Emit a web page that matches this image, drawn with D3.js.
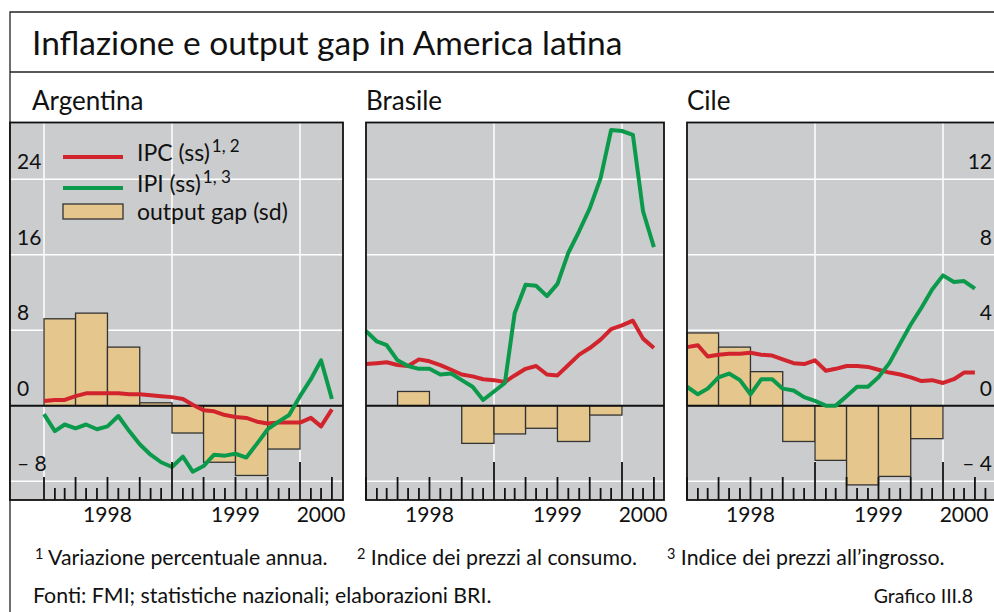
<!DOCTYPE html>
<html>
<head>
<meta charset="utf-8">
<script src="https://cdn.jsdelivr.net/npm/d3@7"></script>
<style>
  body { margin: 0; background: #fff; }
  svg { display: block; font-family: Lato, "Open Sans", sans-serif; }
</style>
</head>
<body>
<svg id="chart" width="994" height="612"></svg>
<script>
(function() {

  // monthly series, Jan 1998 .. Apr 2000 (left scale, %)
  var argIPC = [0.5, 0.6, 0.6, 1.0, 1.3, 1.3, 1.3, 1.3, 1.2, 1.2, 1.1, 1.0, 0.9, 0.7, 0.1, -0.5, -0.6, -1.0, -1.2, -1.3, -1.7, -1.9, -1.8, -1.8, -1.8, -1.3, -2.2, -0.4]
  var argIPI = [-0.9, -2.7, -2.0, -2.4, -2.0, -2.5, -2.2, -1.1, -2.7, -4.1, -5.2, -6.0, -6.5, -5.4, -7.0, -6.4, -5.2, -5.3, -5.1, -5.5, -4.0, -2.5, -1.7, -1.0, 1.0, 2.8, 4.8, 0.7]
  var braIPC = [4.4, 4.5, 4.6, 4.3, 4.2, 4.9, 4.7, 4.3, 3.8, 3.3, 3.1, 2.8, 2.7, 2.5, 3.2, 3.9, 4.2, 3.3, 3.2, 4.3, 5.4, 6.1, 7.0, 8.1, 8.5, 9.0, 7.1, 6.1]
  var braIPI = [7.9, 6.8, 6.4, 4.8, 4.2, 3.9, 3.9, 3.3, 3.4, 2.7, 2.0, 0.6, 1.5, 2.4, 9.8, 12.8, 12.7, 11.6, 12.9, 16.2, 18.5, 20.9, 24.1, 29.2, 29.1, 28.7, 20.6, 16.8]
  var cilIPC = [6.2, 6.4, 5.2, 5.4, 5.5, 5.5, 5.6, 5.4, 5.3, 4.9, 4.5, 4.4, 4.8, 3.7, 3.9, 4.2, 4.2, 4.1, 3.8, 3.5, 3.3, 3.0, 2.6, 2.7, 2.4, 2.8, 3.5, 3.5]
  var cilIPI = [2.0, 1.2, 1.8, 3.0, 3.4, 2.7, 1.2, 2.8, 2.8, 1.8, 1.6, 0.9, 0.5, 0.0, 0.0, 1.0, 2.0, 2.0, 3.0, 4.5, 6.6, 8.6, 10.4, 12.3, 13.8, 13.1, 13.2, 12.4]

  // quarterly output gap, 1998 Q1 .. 1999 Q4 (right scale)
  var argGap = [4.6, 4.9, 3.1, 0.15, -1.45, -3.0, -3.7, -2.3]
  var braGap = [0, 0.75, 0, -2.0, -1.5, -1.2, -1.9, -0.5]
  var cilGap = [3.85, 3.1, 1.8, -1.9, -2.9, -4.2, -3.75, -1.75]

  var leftTicks = [24, 16, 8, 0, -8]
  var rightTicks = [12, 8, 4, 0, -4]
  var years = ["1998", "1999", "2000"]

  var months = d3.range(argIPC.length).map(function(k) { return new Date(1998, k, 1) })
  var quarters = d3.range(argGap.length).map(function(q) { return new Date(1998, q * 3, 1) })

  var svg = d3.select("#chart")
  var top = 122.5, bottom = 500

  // the two scales are shared by all panels
  var yLeft = d3.scaleLinear().domain([-10, 30]).range([bottom, top])
  var yRight = d3.scaleLinear().domain([-5, 15]).range([bottom, top])

  var panels = [
    { name: "Argentina", left: 10, right: 343, x0: 44, ipc: argIPC, ipi: argIPI, gap: argGap, axis: "left" },
    { name: "Brasile", left: 366, right: 664, x0: 366, ipc: braIPC, ipi: braIPI, gap: braGap, axis: "none" },
    { name: "Cile", left: 687, right: 1000, x0: 687, ipc: cilIPC, ipi: cilIPI, gap: cilGap, axis: "right" }
  ]

  // frame and title
  svg.append("path")
    .attr("d", "M994,12 H10 V612 M10,72 H994")
    .attr("fill", "none")
    .attr("stroke", "#222")
    .attr("stroke-width", 1.3)

  svg.append("text")
    .attr("x", 32)
    .attr("y", 55)
    .attr("font-size", 33.5)
    .attr("fill", "#111")
    .text("Inflazione e output gap in America latina")

  panels.forEach(drawPanel)

  function drawPanel(p) {
    var x = d3.scaleTime()
      .domain([new Date(1998, 0, 1), new Date(2000, 0, 1)])
      .range([p.x0, p.x0 + 256])

    var g = svg.append("g")

    g.append("text")
      .attr("x", p.x0 === p.left ? p.left : 32)
      .attr("y", 110)
      .attr("font-size", 26)
      .attr("fill", "#111")
      .text(p.name)

    g.append("rect")
      .attr("x", p.left)
      .attr("y", top)
      .attr("width", p.right - p.left)
      .attr("height", bottom - top)
      .attr("fill", "#cbccce")

    // white grid
    g.selectAll(".hgrid")
      .data(leftTicks.filter(function(d) { return d !== 0 }))
      .enter()
      .append("line")
      .attr("x1", p.left)
      .attr("x2", p.right)
      .attr("y1", function(d) { return yLeft(d) })
      .attr("y2", function(d) { return yLeft(d) })
      .attr("stroke", "#fff")
      .attr("stroke-width", 1.5)

    g.selectAll(".vgrid")
      .data([new Date(1998, 0, 1), new Date(1999, 0, 1), new Date(2000, 0, 1)])
      .enter()
      .append("line")
      .attr("x1", function(d) { return x(d) })
      .attr("x2", function(d) { return x(d) })
      .attr("y1", top)
      .attr("y2", bottom)
      .attr("stroke", "#fff")
      .attr("stroke-width", 1.5)

    // output gap bars
    g.selectAll(".bar")
      .data(p.gap)
      .enter()
      .append("rect")
      .attr("x", function(d, i) { return x(quarters[i]) })
      .attr("width", function(d, i) { return x(d3.timeMonth.offset(quarters[i], 3)) - x(quarters[i]) })
      .attr("y", function(d) { return yRight(Math.max(d, 0)) })
      .attr("height", function(d) { return Math.abs(yRight(d) - yRight(0)) })
      .attr("fill", "#e5c68c")
      .attr("stroke", "#333")
      .attr("stroke-width", 1.3)

    // zero line
    g.append("line")
      .attr("x1", p.left)
      .attr("x2", p.right)
      .attr("y1", yLeft(0))
      .attr("y2", yLeft(0))
      .attr("stroke", "#111")
      .attr("stroke-width", 2)

    var line = d3.line()
      .x(function(d, i) { return x(months[i]) })
      .y(function(d) { return yLeft(d) })

    g.append("path")
      .datum(p.ipc)
      .attr("d", line)
      .attr("fill", "none")
      .attr("stroke", "#d2242c")
      .attr("stroke-width", 4)
      .attr("stroke-linejoin", "round")

    g.append("path")
      .datum(p.ipi)
      .attr("d", line)
      .attr("fill", "none")
      .attr("stroke", "#0b9a4b")
      .attr("stroke-width", 4)
      .attr("stroke-linejoin", "round")

    // monthly ticks along the bottom
    var ticks = d3.timeMonth.range(new Date(1998, 0, 1), new Date(2000, 5, 1))
      .filter(function(d) { return x(d) < p.right - 2 })

    g.selectAll(".tick")
      .data(ticks)
      .enter()
      .append("line")
      .attr("x1", function(d) { return x(d) })
      .attr("x2", function(d) { return x(d) })
      .attr("y1", function(d) {
        if (d.getMonth() === 0 && d.getFullYear() > 1998) return bottom - 38
        if (d.getMonth() % 3 === 0) return bottom - 23
        return bottom - 12
      })
      .attr("y2", bottom)
      .attr("stroke", "#111")
      .attr("stroke-width", 1.8)

    // year labels
    g.selectAll(".year")
      .data(years)
      .enter()
      .append("text")
      .attr("x", function(d, i) { return x(new Date(1998, i < 2 ? i * 12 + 6 : 26, 1)) })
      .attr("y", 522)
      .attr("text-anchor", "middle")
      .attr("font-size", 21)
      .attr("fill", "#111")
      .text(function(d) { return d })

    // y labels sit just above their gridline
    if (p.axis === "left") {
      g.selectAll(".ylab")
        .data(leftTicks)
        .enter()
        .append("text")
        .attr("x", 17)
        .attr("y", function(d) { return yLeft(d) - 10 })
        .attr("font-size", 21)
        .attr("fill", "#111")
        .text(function(d) { return d < 0 ? "\u2013 " + Math.abs(d) : d })
    }
    if (p.axis === "right") {
      g.selectAll(".ylab")
        .data(rightTicks)
        .enter()
        .append("text")
        .attr("x", 992)
        .attr("y", function(d) { return yRight(d) - 10 })
        .attr("text-anchor", "end")
        .attr("font-size", 21)
        .attr("fill", "#111")
        .text(function(d) { return d < 0 ? "\u2013 " + Math.abs(d) : d })
    }

    g.append("rect")
      .attr("x", p.left)
      .attr("y", top)
      .attr("width", p.right - p.left)
      .attr("height", bottom - top)
      .attr("fill", "none")
      .attr("stroke", "#111")
      .attr("stroke-width", 1.8)
  }

  // legend inside the Argentina panel
  var legend = svg.append("g")
  var items = [
    { label: "IPC (ss)", sup: "1, 2", color: "#d2242c", y: 157 },
    { label: "IPI (ss)", sup: "1, 3", color: "#0b9a4b", y: 188 },
    { label: "output gap (sd)", sup: "", color: "#e5c68c", y: 212 }
  ]

  items.forEach(function(d, i) {
    if (i < 2) {
      legend.append("line")
        .attr("x1", 63).attr("x2", 123)
        .attr("y1", d.y).attr("y2", d.y)
        .attr("stroke", d.color)
        .attr("stroke-width", 4)
    } else {
      legend.append("rect")
        .attr("x", 63).attr("y", d.y - 8)
        .attr("width", 60).attr("height", 15)
        .attr("fill", d.color)
        .attr("stroke", "#333")
        .attr("stroke-width", 1.3)
    }
    var t = legend.append("text")
      .attr("x", 137)
      .attr("y", d.y + 4 + (i === 2 ? 4 : 0))
      .attr("font-size", 23)
      .attr("fill", "#111")
      .text(d.label)
    if (d.sup) {
      t.append("tspan")
        .attr("dx", 2)
        .attr("dy", -9)
        .attr("font-size", 17)
        .text(d.sup)
    }
  })

  // footnotes
  var notes = [
    { x: 35, sup: "1", text: " Variazione percentuale annua." },
    { x: 357, sup: "2", text: " Indice dei prezzi al consumo." },
    { x: 667, sup: "3", text: " Indice dei prezzi all\u2019ingrosso." }
  ]

  notes.forEach(function(n) {
    var t = svg.append("text")
      .attr("x", n.x)
      .attr("y", 565)
      .attr("font-size", 21.3)
      .attr("fill", "#111")
    t.append("tspan").attr("font-size", 14.5).attr("dy", -6).text(n.sup)
    t.append("tspan").attr("dy", 6).text(n.text)
  })

  svg.append("text")
    .attr("x", 33)
    .attr("y", 603)
    .attr("font-size", 21.3)
    .attr("fill", "#111")
    .text("Fonti: FMI; statistiche nazionali; elaborazioni BRI.")

  svg.append("text")
    .attr("x", 973)
    .attr("y", 603)
    .attr("text-anchor", "end")
    .attr("font-size", 19.5)
    .attr("fill", "#111")
    .text("Grafico III.8")

})()
</script>
</body>
</html>
